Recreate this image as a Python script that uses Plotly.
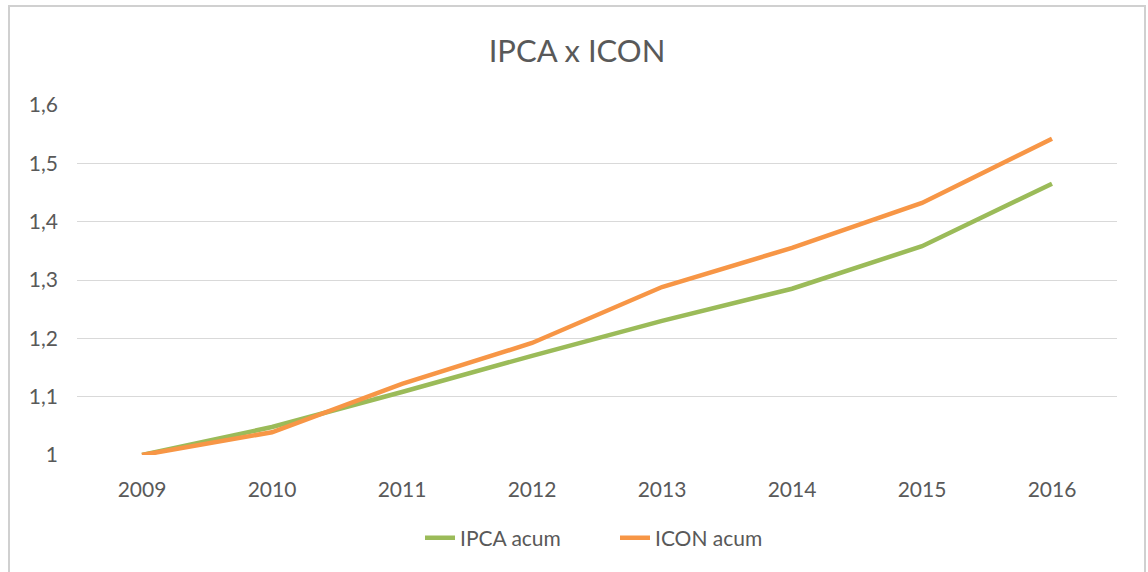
import plotly.graph_objects as go

anos = ["2009", "2010", "2011", "2012", "2013", "2014", "2015", "2016"]
ipca_acum = [1.000, 1.048, 1.108, 1.170, 1.230, 1.285, 1.358, 1.465]
icon_acum = [1.000, 1.039, 1.122, 1.192, 1.288, 1.355, 1.432, 1.542]
y_ticks = [1.0, 1.1, 1.2, 1.3, 1.4, 1.5, 1.6]
y_labels = ["1", "1,1", "1,2", "1,3", "1,4", "1,5", "1,6"]

FONT = "Lato, 'Open Sans', sans-serif"
GRAY_TXT = "#595959"
W, H = 1148, 572

fig = go.Figure()
fig.add_trace(go.Scatter(x=anos, y=ipca_acum, mode="lines", name="IPCA acum",
                         line=dict(color="#9BBB59", width=4.5)))
fig.add_trace(go.Scatter(x=anos, y=icon_acum, mode="lines", name="ICON acum",
                         line=dict(color="#F79646", width=4.5)))

fig.update_layout(
    width=W, height=H,
    margin=dict(l=77, r=W - 1117, t=105, b=H - 455),
    paper_bgcolor="white", plot_bgcolor="white",
    font=dict(family=FONT, color=GRAY_TXT, size=16),
    title=dict(text="IPCA x ICON", x=577 / W, xref="container", xanchor="center",
               y=1 - 51 / H, yref="container", yanchor="middle",
               font=dict(size=31, color=GRAY_TXT, family=FONT)),
    legend=dict(orientation="h", xref="container", yref="container",
                x=615 / W, xanchor="center", y=1 - 538 / H, yanchor="middle",
                font=dict(size=21, color=GRAY_TXT), entrywidth=150,
                traceorder="normal"),
    showlegend=True,
)
fig.update_xaxes(type="category", range=[-0.5, 7.5], showgrid=False, zeroline=False,
                 showline=False, ticks="", ticklabelstandoff=20,
                 tickfont=dict(size=21, color=GRAY_TXT))
fig.update_yaxes(range=[1.0, 1.6], tickvals=y_ticks, ticktext=y_labels,
                 showgrid=True, gridcolor="#D9D9D9", gridwidth=1, zeroline=False,
                 showline=False, ticks="", ticklabelstandoff=18,
                 tickfont=dict(size=21, color=GRAY_TXT))

# chart frame (Excel style border)
fig.add_shape(type="rect", xref="paper", yref="paper",
              x0=(9 - 77) / 1040, x1=(1145 - 77) / 1040,
              y0=-0.5, y1=(455 - 6) / 350,
              line=dict(color="#D0D0D0", width=2), layer="below")

# drop the default 8px body margin so the figure fills the window exactly
fig.write_html("out.html", config={"displayModeBar": False},
               post_script="document.body.style.margin='0';")
